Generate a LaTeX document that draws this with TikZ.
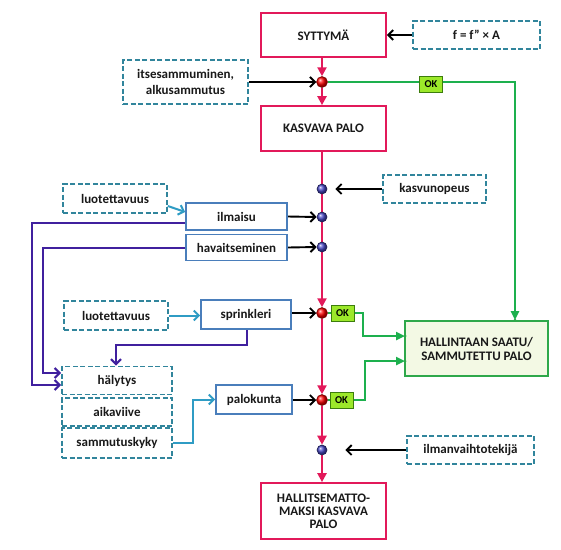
\documentclass[tikz,border=0pt]{standalone}
\usepackage{fontspec}
\setmainfont{Carlito}
\usetikzlibrary{arrows.meta,calc}
\definecolor{pinkc}{HTML}{E2195A}
\definecolor{dashc}{HTML}{31859C}
\definecolor{sboxc}{HTML}{4A7EBB}
\definecolor{greenc}{HTML}{1DB04E}
\definecolor{hallfill}{HTML}{F3F9E4}
\definecolor{hallc}{HTML}{2EA84A}
\definecolor{okfill}{HTML}{9CE82A}
\definecolor{okc}{HTML}{3C7D0C}
\definecolor{purpc}{HTML}{40209E}
\definecolor{tealc}{HTML}{2F9CC4}
\definecolor{bluedot}{HTML}{4848C8}
\pgfdeclarelayer{bg}
\pgfsetlayers{bg,main}
\newcommand{\fs}{\fontsize{13}{15}\selectfont}
\tikzset{
  box/.style={inner sep=0pt, align=center, font=\bfseries\fs, fill=white, text=black!90},
  pinkbox/.style={box, draw=pinkc, line width=1.7pt, minimum width=125pt},
  dbox/.style={box, draw=dashc, line width=1.6pt, dash pattern=on 5pt off 2.5pt},
  sbox/.style={box, draw=sboxc, line width=1.6pt},
  hallbox/.style={box, draw=hallc, fill=hallfill, line width=1.7pt},
  okbox/.style={inner sep=0pt, draw=okc, fill=okfill, line width=0.9pt, minimum width=23pt, minimum height=16pt, font=\bfseries\fontsize{10.5}{12}\selectfont},
  rdot/.style={circle, inner sep=0pt, minimum size=11pt, ball color=red, draw=red!45!black, line width=0.5pt},
  bdot/.style={circle, inner sep=0pt, minimum size=10pt, ball color=bluedot, draw=bluedot!40!black, line width=0.6pt},
  pinkarrow/.style={draw=pinkc, line width=2.8pt, -{Triangle[length=9pt,width=9pt]}},
  blackarrow/.style={draw=black, line width=1.9pt, -{Straight Barb[length=5pt,width=10pt]}},
  greenarrow/.style={draw=greenc, line width=2.3pt, -{Triangle[length=9pt,width=8pt]}},
  greenline/.style={draw=greenc, line width=2.3pt},
  purparrow/.style={draw=purpc, line width=2.2pt, -{Straight Barb[length=5pt,width=10pt]}},
  tealarrow/.style={draw=tealc, line width=2pt, -{Straight Barb[length=5pt,width=10pt]}},
}
\begin{document}
\begin{tikzpicture}[x=1pt,y=-1pt]
\useasboundingbox (0,0) rectangle (561,549);
% main boxes
\node[pinkbox, minimum height=44pt] (syt) at (323.5,35) {SYTTYMÄ};
\node[dbox, minimum width=127pt, minimum height=28pt] (ff) at (476.5,35) {f = f\char"22{} × A};
\node[dbox, minimum width=125pt, minimum height=44pt] (its) at (185.5,82) {itsesammuminen,\\[1pt]alkusammutus};
\node[rdot] (d1) at (322,82) {};
\node[pinkbox, minimum height=45pt] (kas) at (323.5,128.5) {KASVAVA PALO};
\node[dbox, minimum width=103pt, minimum height=28pt] (kv) at (434.5,189) {kasvunopeus};
\node[bdot] (b2) at (322,189) {};
\node[bdot] (b3) at (322,217) {};
\node[bdot] (b4) at (322,247) {};
\node[dbox, minimum width=104pt, minimum height=29pt] (lu1) at (115,198.5) {luotettavuus};
\node[sbox, minimum width=101pt, minimum height=27pt] (ilm) at (236.5,216.5) {ilmaisu};
\node[sbox, minimum width=101pt, minimum height=26pt] (hav) at (236.5,247.5) {havaitseminen};
\node[dbox, minimum width=104pt, minimum height=29pt] (lu2) at (116,315.5) {luotettavuus};
\node[sbox, minimum width=90pt, minimum height=29pt] (spr) at (246,314.5) {sprinkleri};
\node[rdot] (r2) at (322,313) {};
\node[okbox] (ok2) at (342.5,313) {OK};
\node[hallbox, minimum width=143pt, minimum height=55pt] (hall) at (476.5,348.5) {HALLINTAAN SAATU/\\[-1pt]SAMMUTETTU PALO};
\node[dbox, minimum width=110pt, minimum height=28pt] (hal) at (117,380.5) {hälytys};
\node[dbox, minimum width=110pt, minimum height=28pt] (aik) at (117,412) {aikaviive};
\node[dbox, minimum width=110pt, minimum height=30pt] (sam) at (117,443) {sammutuskyky};
\node[sbox, minimum width=76pt, minimum height=29pt] (pal) at (254,399.5) {palokunta};
\node[rdot] (r3) at (322,400) {};
\node[okbox] (ok3) at (341.5,400) {OK};
\node[bdot] (b5) at (322,450) {};
\node[dbox, minimum width=127pt, minimum height=28pt] (ilv) at (470.5,450) {ilmanvaihtotekijä};
\node[pinkbox, minimum height=56pt] (hm) at (323.5,511) {HALLITSEMATTO-\\[-2pt]MAKSI KASVAVA\\[-2pt]PALO};
\coordinate (g1) at (515,82);
\coordinate (gv2) at (363,313);
\coordinate (gv3) at (365,400);
\coordinate (hin1) at (405,336);
\coordinate (hin2) at (405,361);
\coordinate (p1) at (32,223);
\coordinate (p2) at (43,248);
\coordinate (p3) at (247,345);
\coordinate (t1) at (193,443);
\node[okbox] (ok1) at (431,84) {OK};
\begin{pgfonlayer}{bg}
% pink main flow
\draw[pinkarrow] (syt.south -| d1) -- (d1.north);
\draw[pinkarrow] (d1.south) -- (kas.north -| d1);
\draw[pinkarrow] (kas.south -| d1) -- (r2.north);
\draw[pinkarrow] (r2.south) -- (r3.north);
\draw[pinkarrow] (r3.south) -- (b5.north);
\draw[pinkarrow] (b5.south) -- (hm.north -| b5);
% black inputs
\draw[blackarrow] (ff.west) -- (syt.east);
\draw[blackarrow] (its.east) -- (d1.west);
\draw[blackarrow, shorten >=8pt] (kv.west) -- (b2.east);
\draw[blackarrow] (ilm.east) -- (b3.west);
\draw[blackarrow] (hav.east) -- (b4.west);
\draw[blackarrow] (spr.east |- r2) -- (r2.west);
\draw[blackarrow] (pal.east |- r3) -- (r3.west);
\draw[blackarrow, shorten >=18pt] (ilv.west) -- (b5.east);
% green
\draw[greenarrow] (d1.east) -- (g1) -- (hall.north -| g1);
\draw[greenline] (r2.east) -- (ok2.west);
\draw[greenline] (r3.east) -- (ok3.west);
\draw[greenarrow] (ok2.east) -- (gv2) |- (hin1);
\draw[greenarrow] (ok3.east) -- (gv3) |- (hin2);
% purple
\draw[purparrow] (ilm.west |- p1) -- (p1) |- (hal.west |- 0,385);
\draw[purparrow] (hav.west |- p2) -- (p2) |- (hal.west |- 0,373);
\draw[purparrow] (spr.south -| p3) -- (p3) -| (hal.north -| 116,0);
% teal
\draw[tealarrow] (lu1.east |- 0,206) -- (ilm.west |- 0,212);
\draw[tealarrow] (lu2.east) -- (spr.west |- lu2.east);
\draw[tealarrow] (sam.east) -- (t1) |- (pal.west);
\end{pgfonlayer}
\fill[hallc] (hin1) circle (1.5pt) (hin2) circle (1.5pt) (hall.north -| g1) circle (1.5pt);
\end{tikzpicture}
\end{document}
